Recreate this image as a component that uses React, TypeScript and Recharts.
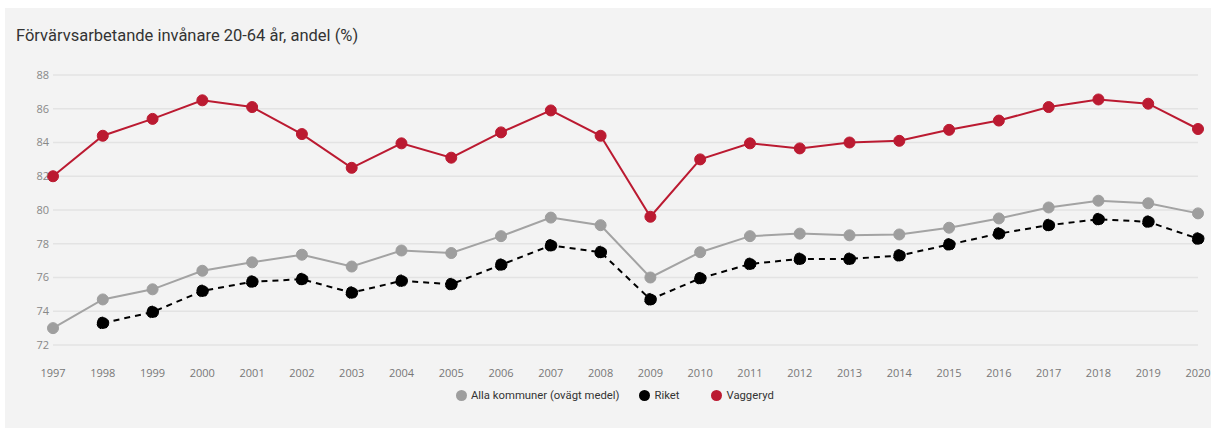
import React from "react";
import {
  LineChart,
  Line,
  XAxis,
  YAxis,
  CartesianGrid,
} from "recharts";

const years = [
  "1997", "1998", "1999", "2000", "2001", "2002", "2003", "2004", "2005", "2006", "2007", "2008",
  "2009", "2010", "2011", "2012", "2013", "2014", "2015", "2016", "2017", "2018", "2019", "2020",
];

const allaKommuner = [
  73.0, 74.7, 75.3, 76.4, 76.9, 77.35, 76.65, 77.6, 77.45, 78.45, 79.55, 79.1,
  76.0, 77.5, 78.45, 78.6, 78.5, 78.55, 78.95, 79.5, 80.15, 80.55, 80.4, 79.8,
];

const riket: (number | null)[] = [
  null, 73.3, 73.95, 75.2, 75.75, 75.9, 75.1, 75.8, 75.6, 76.75, 77.9, 77.5,
  74.7, 75.95, 76.8, 77.1, 77.1, 77.3, 77.95, 78.6, 79.1, 79.45, 79.3, 78.3,
];

const vaggeryd = [
  82.0, 84.4, 85.4, 86.5, 86.1, 84.5, 82.5, 83.95, 83.1, 84.6, 85.9, 84.4,
  79.6, 83.0, 83.95, 83.65, 84.0, 84.1, 84.75, 85.3, 86.1, 86.55, 86.3, 84.8,
];

const yTicks = [72, 74, 76, 78, 80, 82, 84, 86, 88];

const RED = "#bb1a31";
const GRAY = "#a3a3a3";
const BLACK = "#000000";

const data = years.map((year, i) => ({
  year,
  alla: allaKommuner[i],
  riket: riket[i],
  vaggeryd: vaggeryd[i],
}));

const legendItems = [
  { label: "Alla kommuner (ovägt medel)", color: "#9e9e9e", gap: 20 },
  { label: "Riket", color: BLACK, gap: 32 },
  { label: "Vaggeryd", color: RED, gap: 0 },
];

const ChartLegend = () => (
  <div
    style={{
      position: "absolute",
      left: 451,
      top: 381,
      display: "flex",
      alignItems: "center",
      fontFamily: "Roboto",
      fontSize: 11.3,
      color: "#333",
      whiteSpace: "nowrap",
    }}
  >
    {legendItems.map((it) => (
      <div key={it.label} style={{ display: "flex", alignItems: "center", marginRight: it.gap }}>
        <span
          style={{
            display: "inline-block",
            width: 11,
            height: 11,
            borderRadius: "50%",
            background: it.color,
            marginRight: 4,
          }}
        />
        <span>{it.label}</span>
      </div>
    ))}
  </div>
);

export default function App() {
  return (
    <div style={{ position: "absolute", left: 0, top: 0, width: 1211, height: 428, background: "#fff" }}>
      <div
        style={{
          position: "absolute",
          left: 5,
          top: 8,
          width: 1206,
          height: 420,
          background: "#f3f3f3",
        }}
      >
        <div
          style={{
            position: "absolute",
            left: 11,
            top: 18,
            fontFamily: "Roboto",
            fontSize: 16.5,
            color: "#333",
            whiteSpace: "nowrap",
          }}
        >
          Förvärvsarbetande invånare 20-64 år, andel (%)
        </div>
        <LineChart
          width={1206}
          height={420}
          data={data}
          margin={{ top: 67, right: 13, left: 8, bottom: 53 }}
        >
          <CartesianGrid vertical={false} stroke="#e3e3e3" strokeWidth={1.5} />
          <XAxis
            dataKey="year"
            height={30}
            axisLine={false}
            tickLine={false}
            tickSize={0}
            tickMargin={24}
            interval={0}
            tick={{ fill: "#777", fontSize: 11, fontFamily: "Open Sans" }}
          />
          <YAxis
            width={40}
            domain={[72, 88]}
            ticks={yTicks}
            axisLine={false}
            tickLine={false}
            tickSize={0}
            tickMargin={4}
            tick={{ fill: "#888", fontSize: 11, fontFamily: "Open Sans" }}
          />
          <Line
            dataKey="alla"
            stroke={GRAY}
            strokeWidth={2}
            dot={{ r: 5.5, fill: "#9e9e9e", stroke: "#9e9e9e", strokeWidth: 1 }}
            isAnimationActive={false}
          />
          <Line
            dataKey="riket"
            stroke={BLACK}
            strokeWidth={2}
            strokeDasharray="6 5"
            dot={{ r: 6, fill: BLACK, stroke: BLACK, strokeWidth: 1 }}
            isAnimationActive={false}
          />
          <Line
            dataKey="vaggeryd"
            stroke={RED}
            strokeWidth={2}
            dot={{ r: 5.5, fill: RED, stroke: RED, strokeWidth: 1 }}
            isAnimationActive={false}
          />
        </LineChart>
        <ChartLegend />
      </div>
    </div>
  );
}
